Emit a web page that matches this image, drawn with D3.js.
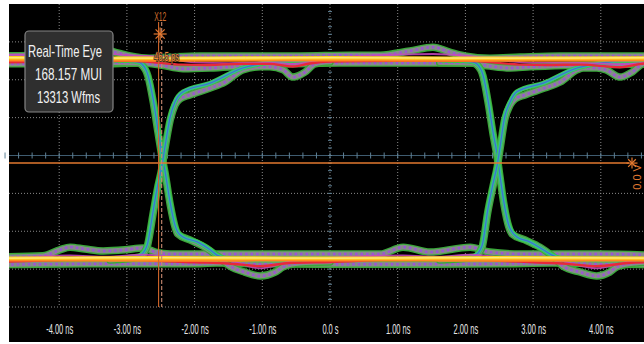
<!DOCTYPE html>
<html><head><meta charset="utf-8">
<script src="https://cdn.jsdelivr.net/npm/d3@7"></script>
<style>body{margin:0;background:#fff}svg{display:block}</style>
</head><body>
<svg id="c" width="644" height="344"></svg>
<script>
// ---------- data (time in ns, level in mV) ----------
const xTicks = [-4, -3, -2, -1, 0, 1, 2, 3, 4];
const xTickLabels = ["-4.00 ns", "-3.00 ns", "-2.00 ns", "-1.00 ns", "0.0 s", "1.00 ns", "2.00 ns", "3.00 ns", "4.00 ns"];
const yDivisions = [-380, -280, -180, -80, 120, 220, 320];
const centerLevel = 20;
const centerTime = 0;
const timeCursors = [-2.532, -2.486];
const levelCursor = 0;
const infoLines = ["Real-Time Eye", "168.157 MUI", "13313 Wfms"];
const cursorName = "X12";
const cursorDelta = "46.5 ps";
const levelLabel = "0.0 V";

// steady "1" level traces
const hiYellow = [[-4.9,278],[-2.5,277],[0,278],[2.5,277],[4.9,278]];
const hiOrange = [[-4.9,272],[-2.5,271],[0,272],[2.5,271],[4.9,272]];
const hiRed = [[-4.87,266],[-4.0,268],[-3.0,270],[-2.6,266],[-2.2,260],[-1.8,259],[-1.3,262],[-0.9,262],[-0.55,255],[-0.3,263],[0,268],[1.0,270],[2.0,270],[2.4,266],[2.8,260],[3.2,259],[3.7,260],[4.28,253],[4.6,262],[4.87,266]];
const hiMagenta = [[-4.87,286],[-4.0,286],[-3.43,290],[-3.0,285],[-2.5,280],[-2.0,266],[-1.5,264],[-1.0,266],[-0.55,262],[0,276],[0.6,284],[1.52,288],[2.0,283],[2.5,272],[3.0,265],[3.6,265],[4.28,261],[4.87,270]];
const hiGrayUpper = [[-4.87,283],[-4.24,285],[-3.84,288],[-3.62,296],[-3.43,306],[-3.18,293],[-2.95,283],[-2.66,277],[-2.36,280],[-1.92,283],[-1.18,283],[-0.44,283],[0.30,285],[0.74,285],[1.18,296],[1.52,306],[1.77,293],[1.99,283],[2.36,277],[2.81,280],[3.40,283],[3.99,283],[4.73,283]];
const hiGrayLower = [[-4.87,262],[-3.99,262],[-3.40,262],[-2.81,264],[-2.51,259],[-2.17,249],[-1.77,251],[-1.29,256],[-0.5,262],[0.15,264],[1.03,264],[2.07,264],[2.36,256],[2.66,251],[2.95,254],[3.6,258],[4.73,262]];

// steady "0" level traces
const loYellow = [[-4.9,-251],[-2.5,-250],[0,-251],[2.5,-250],[4.9,-251]];
const loOrange = [[-4.9,-256],[-2.5,-257],[0,-256],[2.5,-257],[4.9,-256]];
const loRed = [[-4.87,-261],[-4.0,-256],[-3.6,-253],[-3.0,-254],[-2.6,-258],[-2.0,-262],[-1.5,-265],[-1.03,-272],[-0.6,-264],[0,-261],[1.0,-254],[1.6,-253],[2.1,-255],[2.5,-258],[3.0,-262],[3.5,-266],[3.94,-272],[4.4,-264],[4.87,-261]];
const loMagenta = [[-4.87,-254],[-3.84,-244],[-3.3,-247],[-2.76,-242],[-2.3,-248],[-1.6,-252],[-1.03,-278],[-0.6,-260],[0,-250],[1.08,-244],[1.6,-247],[2.07,-242],[2.6,-250],[3.3,-255],[3.94,-278],[4.4,-260],[4.87,-252]];
const loGrayUpper = [[-4.87,-248],[-4.24,-245],[-3.99,-229],[-3.84,-222],[-3.62,-227],[-3.35,-232],[-3.03,-229],[-2.76,-224],[-2.58,-235],[-2.36,-240],[-1.92,-240],[-0.44,-240],[0.74,-240],[1.08,-222],[1.48,-235],[2.07,-222],[2.36,-235],[2.81,-240],[3.99,-240],[4.73,-243]];
const loGrayLower = [[-4.87,-268],[-4.28,-267],[-3.40,-266],[-2.51,-266],[-2.07,-266],[-1.67,-264],[-1.0,-266],[0.15,-267],[1.03,-267],[2.51,-266],[3.28,-264],[4.0,-266],[4.73,-268]];

// transitions at the left crossing
const fallTealA = [[-3.25,272],[-2.95,270],[-2.84,267],[-2.78,262],[-2.69,233],[-2.61,167],[-2.54,87],[-2.48,21],[-2.44,-18],[-2.36,-105],[-2.29,-164],[-2.25,-182],[-2.17,-195],[-1.96,-208],[-1.77,-229],[-1.67,-243],[-1.48,-253],[-1.03,-256],[-0.44,-256]];
const riseTealA = [[-3.25,-253],[-2.95,-253],[-2.81,-245],[-2.73,-229],[-2.70,-216],[-2.61,-124],[-2.54,-53],[-2.48,-5],[-2.44,40],[-2.36,122],[-2.29,161],[-2.17,188],[-1.77,211],[-1.29,251],[-1.03,262],[-0.59,270],[-0.15,272]];
const fallGrayA = [[-3.25,265],[-2.84,264],[-2.78,259],[-2.69,230],[-2.61,160],[-2.54,80],[-2.48,15],[-2.44,-22],[-2.36,-110],[-2.29,-168],[-2.25,-187],[-2.07,-203],[-1.85,-222],[-1.67,-245],[-1.48,-272],[-1.26,-288],[-1.03,-298],[-0.81,-288],[-0.69,-274],[-0.44,-264],[0,-261]];
const riseGrayA = [[-3.25,-256],[-2.81,-248],[-2.73,-232],[-2.70,-220],[-2.61,-130],[-2.54,-60],[-2.48,-10],[-2.44,35],[-2.36,114],[-2.29,153],[-2.22,169],[-2.07,180],[-1.77,198],[-1.55,214],[-1.29,246],[-1.03,254],[-0.89,254],[-0.69,246],[-0.55,227],[-0.37,240],[-0.22,262],[0,267]];

// transitions at the right crossing
const fallTealB = [[1.62,272],[1.99,270],[2.11,267],[2.17,262],[2.26,233],[2.34,160],[2.41,80],[2.47,21],[2.50,-18],[2.57,-105],[2.64,-164],[2.69,-182],[2.76,-195],[2.95,-208],[3.15,-229],[3.28,-243],[3.44,-253],[3.94,-256],[4.73,-256]];
const riseTealB = [[1.62,-253],[1.99,-253],[2.14,-245],[2.22,-229],[2.25,-216],[2.33,-124],[2.41,-53],[2.47,-5],[2.51,40],[2.58,122],[2.66,161],[2.76,188],[3.15,211],[3.65,251],[3.94,262],[4.28,270],[4.73,272]];
const fallGrayB = [[1.62,265],[2.11,264],[2.17,259],[2.26,230],[2.34,155],[2.41,75],[2.47,15],[2.50,-22],[2.57,-110],[2.64,-168],[2.69,-187],[2.88,-203],[3.10,-222],[3.28,-245],[3.44,-272],[3.70,-288],[3.94,-298],[4.13,-288],[4.24,-274],[4.51,-264],[4.8,-261]];
const riseGrayB = [[1.62,-256],[2.14,-248],[2.22,-232],[2.25,-220],[2.33,-130],[2.41,-60],[2.47,-10],[2.51,35],[2.58,114],[2.66,153],[2.73,169],[2.88,180],[3.17,198],[3.40,214],[3.65,246],[3.74,251],[3.94,251],[4.08,246],[4.28,227],[4.46,240],[4.62,262],[4.8,267]];

// ---------- drawing ----------
const svg = d3.select("#c");
const x = d3.scaleLinear().domain([-5, 5]).range([-8.5, 668.5]);
const y = d3.scaleLinear().domain([-380, 420]).range([307, 4]);
const L = 9, R = 644, T = 4, B = 307;

svg.append("rect").attr("x", 9).attr("y", 4).attr("width", 635).attr("height", 338).attr("fill", "#000");
svg.append("defs").append("clipPath").attr("id", "clip")
  .append("rect").attr("x", L).attr("y", T).attr("width", R - L).attr("height", B - T);

const grid = svg.append("g");
grid.selectAll(".vg").data(xTicks.filter(d => d !== centerTime)).join("line")
  .attr("x1", d => x(d)).attr("x2", d => x(d)).attr("y1", T).attr("y2", B)
  .attr("stroke", "#8a8a8a").attr("stroke-width", 1).attr("stroke-dasharray", "1,2");
grid.selectAll(".hg").data(yDivisions).join("line")
  .attr("x1", L).attr("x2", R).attr("y1", d => y(d)).attr("y2", d => y(d))
  .attr("stroke", "#8a8a8a").attr("stroke-width", 1).attr("stroke-dasharray", "1,2");

// center axes with minor ticks
const cy = y(centerLevel), cx = x(centerTime);
grid.append("line").attr("x1", L).attr("x2", R).attr("y1", cy).attr("y2", cy)
  .attr("stroke", "#3f5c70").attr("stroke-width", 1);
grid.append("line").attr("x1", cx).attr("x2", cx).attr("y1", T).attr("y2", B)
  .attr("stroke", "#8a8a8a").attr("stroke-width", 1).attr("stroke-dasharray", "1,2");
const minorT = d3.range(-4.8, 4.81, 0.2);
grid.selectAll(".mt").data(minorT).join("line")
  .attr("x1", d => x(d)).attr("x2", d => x(d)).attr("y1", cy - 3).attr("y2", cy + 3)
  .attr("stroke", "#5f8196").attr("stroke-width", 1);
const minorV = d3.range(-360, 420, 20);
grid.selectAll(".mv").data(minorV).join("line")
  .attr("x1", cx - 2).attr("x2", cx + 2).attr("y1", d => y(d)).attr("y2", d => y(d))
  .attr("stroke", "#5f8196").attr("stroke-width", 1);

// traces
const line = d3.line().x(d => x(d[0])).y(d => y(d[1])).curve(d3.curveMonotoneX);
const traces = svg.append("g").attr("clip-path", "url(#clip)");
function draw(data, styles) {
  styles.forEach(s => {
    traces.append("path").attr("d", line(data)).attr("fill", "none")
      .attr("stroke", s.c).attr("stroke-width", s.w).attr("stroke-opacity", s.o || 1)
      .attr("stroke-dasharray", s.d || null).attr("stroke-linecap", s.d ? "butt" : "round")
      .attr("stroke-linejoin", "round");
  });
}
const grayStyle = [{c: "#3aa83a", w: 7.5}, {c: "#858c8a", w: 4.8}, {c: "#9b55d6", w: 2.4, d: "2.5,3"}];
const tealStyle = [{c: "#3cc64a", w: 4.8}, {c: "#35b8a4", w: 3}, {c: "#3f74cc", w: 1.2}];

[hiGrayUpper, hiGrayLower, loGrayUpper, loGrayLower, fallGrayA, riseGrayA, fallGrayB, riseGrayB]
  .forEach(d => draw(d, grayStyle));
[fallTealA, riseTealA, fallTealB, riseTealB].forEach(d => draw(d, tealStyle));

draw(hiMagenta, [{c: "#c846c0", w: 1.8, o: 0.85}]);
draw(hiRed, [{c: "#e8283a", w: 2.4}]);
draw(hiOrange, [{c: "#ff8a1c", w: 2.8}]);
draw(hiYellow, [{c: "#ffd21e", w: 3.4}, {c: "#fff2a0", w: 1}]);
draw(loMagenta, [{c: "#c846c0", w: 1.8, o: 0.85}]);
draw(loRed, [{c: "#e8283a", w: 2.4}]);
draw(loOrange, [{c: "#ff8a1c", w: 2.8}]);
draw(loYellow, [{c: "#ffd21e", w: 3.4}, {c: "#fff2a0", w: 1}]);

// cursors
const cur = svg.append("g");
const orange = "#e2782f";
cur.append("line").attr("x1", L).attr("x2", 629).attr("y1", y(levelCursor)).attr("y2", y(levelCursor))
  .attr("stroke", orange).attr("stroke-width", 1.5);
cur.selectAll(".tc").data(timeCursors).join("line")
  .attr("x1", d => x(d)).attr("x2", d => x(d)).attr("y1", 22).attr("y2", B)
  .attr("stroke", (d, i) => i ? "#c98a70" : "#d0662a").attr("stroke-width", 1.1)
  .attr("stroke-dasharray", (d, i) => i ? "4,2" : null);

function star(g, cx0, cy0, r) {
  [[-r, 0, r, 0], [0, -r, 0, r], [-r * 0.7, -r * 0.7, r * 0.7, r * 0.7], [-r * 0.7, r * 0.7, r * 0.7, -r * 0.7]].forEach(s => {
    g.append("line").attr("x1", cx0 + s[0]).attr("y1", cy0 + s[1]).attr("x2", cx0 + s[2]).attr("y2", cy0 + s[3])
      .attr("stroke", orange).attr("stroke-width", 1.2);
  });
}
const midCur = (x(timeCursors[0]) + x(timeCursors[1])) / 2;
star(cur, midCur, 34, 6.5);
star(cur, 632, y(levelCursor), 5.5);

const fontFam = "'Liberation Sans', Arial, sans-serif";
cur.append("text").attr("x", midCur - 6).attr("y", 21).attr("textLength", 12).attr("lengthAdjust", "spacingAndGlyphs")
  .attr("font-family", fontFam).attr("font-size", 13).attr("fill", "#d2702e").text(cursorName);
cur.append("text").attr("x", 154).attr("y", 61).attr("textLength", 25).attr("lengthAdjust", "spacingAndGlyphs")
  .attr("font-family", fontFam).attr("font-size", 12).attr("fill", "#f08a3c")
  .attr("stroke", "#1a1a1a").attr("stroke-width", 2.2).attr("stroke-opacity", 0.75)
  .attr("paint-order", "stroke").text(cursorDelta);
cur.append("text").attr("transform", `translate(641,${y(levelCursor) + 1}) rotate(-90)`)
  .attr("text-anchor", "end").attr("font-family", fontFam).attr("font-size", 11).attr("fill", orange).text(levelLabel);

// info box
const box = svg.append("g");
box.append("rect").attr("x", 25).attr("y", 31).attr("width", 88).attr("height", 81).attr("rx", 4)
  .attr("fill", "#2f2f2f").attr("stroke", "#858585").attr("stroke-width", 1.2);
const boxX = [28, 35, 37], boxY = [57, 80, 103], boxW = [74, 67, 63];
box.selectAll("text").data(infoLines).join("text")
  .attr("x", (d, i) => boxX[i]).attr("y", (d, i) => boxY[i])
  .attr("textLength", (d, i) => boxW[i]).attr("lengthAdjust", "spacingAndGlyphs")
  .attr("font-family", fontFam).attr("font-size", 17).attr("fill", "#f2f2f2").text(d => d);

// x axis labels
const ax = svg.append("g").attr("transform", `translate(0,${B})`)
  .call(d3.axisBottom(x).tickValues(xTicks).tickFormat((d, i) => xTickLabels[i]).tickSize(0));
ax.select(".domain").remove();
ax.selectAll("text").attr("y", 27).attr("dy", 0).attr("fill", "#e6e6e6")
  .attr("font-family", fontFam).attr("font-size", 15).attr("transform", "scale(0.5,1)");
</script></body></html>
